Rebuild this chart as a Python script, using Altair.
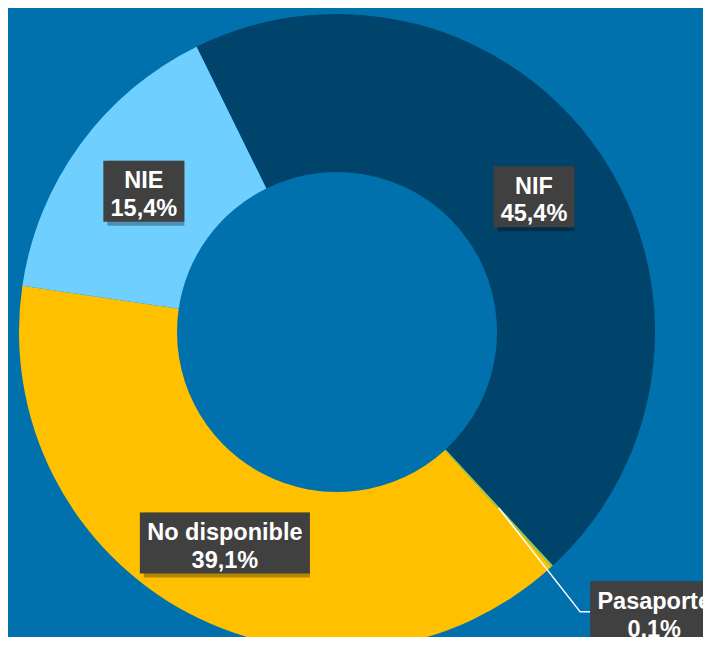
import math
import altair as alt
import pandas as pd

# ---- data ----
categories = ["NIF", "Pasaporte", "No disponible", "NIE"]
values = [45.4, 0.1, 39.1, 15.4]
value_labels = ["45,4%", "0,1%", "39,1%", "15,4%"]
colors = ["#00446B", "#92D050", "#FFC000", "#6FCFFF"]

# ---- layout ----
W, H = 695, 629
CX, CY = 329, 324
R_OUT, R_IN = 318, 160
R_LAB = (R_OUT + R_IN) / 2
START_DEG = -26.2
BOX_W = {"NIF": 81, "Pasaporte": 128, "No disponible": 170, "NIE": 81}
BOX_H = 61
OUTSIDE = {"Pasaporte": (423, -6.0)}
BG = "#0071AD"
FONT_SIZE = 23.5
LINE_H = 27.5

total = sum(values)
slice_df = pd.DataFrame({"cat": categories, "value": values, "idx": range(len(values))})

rows = []
lead_rows = []
cum = 0.0
for c, v, l in zip(categories, values, value_labels):
    mid = START_DEG + 360 * (cum + v / 2) / total
    cum += v
    r, shift = OUTSIDE.get(c, (R_LAB, 0.0))
    a = math.radians(mid + shift)
    x = r * math.sin(a)
    y = r * math.cos(a)
    w = BOX_W[c]
    rows.append({"cat": c, "label": f"{c}\n{l}", "x": x, "y": y,
                 "x0": x - w / 2, "x1": x + w / 2,
                 "y0": y - BOX_H / 2, "y1": y + BOX_H / 2})
    if c in OUTSIDE:
        am = math.radians(mid)
        sx, sy = R_LAB * math.sin(am), R_LAB * math.cos(am)
        left = x - w / 2
        lead_rows += [{"x": sx, "y": sy, "o": 0},
                      {"x": left - 10, "y": y, "o": 1},
                      {"x": left, "y": y, "o": 2}]

lab_df = pd.DataFrame(rows)
lead_df = pd.DataFrame(lead_rows)

xs = alt.Scale(domain=[-CX, W - CX], range=[0, W], nice=False, zero=False)
ys = alt.Scale(domain=[-(H - CY), CY], range=[H, 0], nice=False, zero=False)

s = math.radians(START_DEG)
arc = alt.Chart(slice_df).mark_arc(innerRadius=R_IN, outerRadius=R_OUT).encode(
    theta=alt.Theta("value:Q", stack=True, scale=alt.Scale(range=[s, s + 2 * math.pi])),
    color=alt.Color("cat:N", scale=alt.Scale(domain=categories, range=colors), legend=None),
    order=alt.Order("idx:Q"),
    x=alt.value(CX),
    y=alt.value(CY),
)

lead = alt.Chart(lead_df).mark_line(color="white", strokeWidth=1.5).encode(
    x=alt.X("x:Q", scale=xs, axis=None),
    y=alt.Y("y:Q", scale=ys, axis=None),
    order="o:Q",
)

shadow = alt.Chart(lab_df).mark_rect(color="#000000", opacity=0.3, xOffset=4, yOffset=4).encode(
    x=alt.X("x0:Q", scale=xs, axis=None), x2="x1:Q",
    y=alt.Y("y0:Q", scale=ys, axis=None), y2="y1:Q",
)

box = alt.Chart(lab_df).mark_rect(color="#404040").encode(
    x=alt.X("x0:Q", scale=xs, axis=None), x2="x1:Q",
    y=alt.Y("y0:Q", scale=ys, axis=None), y2="y1:Q",
)

text = alt.Chart(lab_df).mark_text(
    lineBreak="\n", fontSize=FONT_SIZE, fontWeight="bold", font="Liberation Sans",
    color="white", lineHeight=LINE_H, align="center", baseline="middle",
    dy=-LINE_H / 2 + 4,
).encode(
    x=alt.X("x:Q", scale=xs, axis=None),
    y=alt.Y("y:Q", scale=ys, axis=None),
    text="label:N",
)

chart = alt.layer(arc, lead, shadow, box, text).properties(
    width=W, height=H, padding=0, background=BG,
    autosize=alt.AutoSizeParams(type="none"),
).configure_view(stroke=None)

chart.save("out.html", embed_options={"renderer": "svg", "actions": False})
